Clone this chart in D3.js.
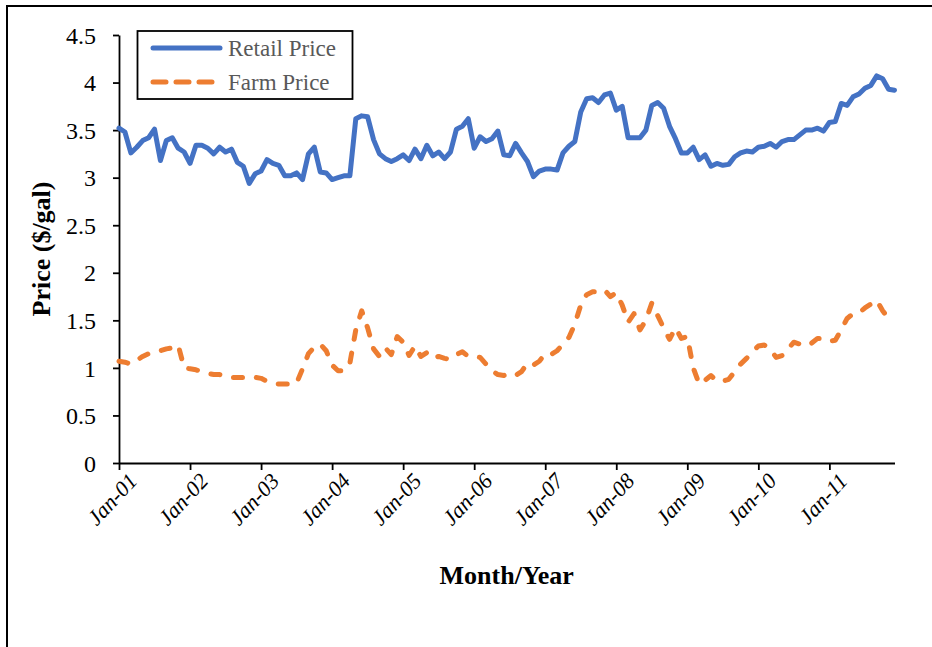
<!DOCTYPE html>
<html>
<head>
<meta charset="utf-8">
<script src="https://cdn.jsdelivr.net/npm/d3@7"></script>
<style>
  body { margin: 0; background: #fff; }
  svg { display: block; }
</style>
</head>
<body>
<svg id="chart" width="932" height="647"></svg>
<script>
// ---- Data (monthly, Jan 2001 .. Dec 2011) ----
const years = ["01","02","03","04","05","06","07","08","09","10","11"];
const xTickLabels = years.map(y => "Jan-" + y);
const yTicks = [0, 0.5, 1, 1.5, 2, 2.5, 3, 3.5, 4, 4.5];
const seriesNames = ["Retail Price", "Farm Price"];

const retail = [
  3.52, 3.48, 3.26, 3.32, 3.39, 3.42, 3.51, 3.18, 3.39, 3.42, 3.31, 3.27,
  3.15, 3.34, 3.34, 3.31, 3.25, 3.32, 3.27, 3.30, 3.16, 3.12, 2.94, 3.04,
  3.07, 3.19, 3.15, 3.13, 3.02, 3.02, 3.05, 2.98, 3.25, 3.32, 3.06, 3.05,
  2.98, 3.00, 3.02, 3.02, 3.62, 3.65, 3.64, 3.40, 3.25, 3.20, 3.17, 3.20,
  3.24, 3.18, 3.30, 3.20, 3.34, 3.23, 3.27, 3.20, 3.27, 3.51, 3.54, 3.62,
  3.31, 3.43, 3.38, 3.41, 3.49, 3.24, 3.23, 3.36, 3.26, 3.17, 3.01, 3.07,
  3.09, 3.09, 3.08, 3.26, 3.33, 3.38, 3.69, 3.83, 3.84, 3.79, 3.87, 3.89,
  3.71, 3.75, 3.42, 3.42, 3.42, 3.50, 3.76, 3.79, 3.73, 3.54, 3.41, 3.26,
  3.26, 3.32, 3.19, 3.24, 3.12, 3.15, 3.13, 3.14, 3.22, 3.26, 3.28, 3.27,
  3.32, 3.33, 3.36, 3.32, 3.38, 3.40, 3.40, 3.45, 3.50, 3.50, 3.52, 3.49,
  3.58, 3.59, 3.78, 3.76, 3.85, 3.88, 3.94, 3.97, 4.07, 4.04, 3.93, 3.92
];

const farm = [
  1.07, 1.06, 1.04, 1.08, 1.12, 1.15, 1.17, 1.18, 1.20, 1.21, 1.24, 1.00,
  0.99, 0.98, 0.96, 0.94, 0.93, 0.93, 0.91, 0.90, 0.90, 0.90, 0.91, 0.90,
  0.89, 0.86, 0.84, 0.83, 0.83, 0.83, 0.84, 0.99, 1.15, 1.22, 1.25, 1.18,
  1.03, 0.97, 0.97, 1.05, 1.40, 1.60, 1.42, 1.20, 1.12, 1.21, 1.14, 1.33,
  1.27, 1.13, 1.23, 1.12, 1.16, 1.10, 1.12, 1.10, 1.09, 1.14, 1.17, 1.12,
  1.12, 1.11, 1.04, 0.97, 0.93, 0.92, 0.94, 0.92, 0.96, 1.05, 1.03, 1.07,
  1.15, 1.14, 1.18, 1.25, 1.32, 1.46, 1.66, 1.77, 1.80, 1.80, 1.82, 1.75,
  1.79, 1.66, 1.48, 1.57, 1.40, 1.50, 1.68, 1.55, 1.42, 1.30, 1.42, 1.31,
  1.33, 1.00, 0.83, 0.87, 0.92, 0.86, 0.86, 0.88, 0.96, 1.04, 1.10, 1.17,
  1.23, 1.24, 1.20, 1.11, 1.13, 1.20, 1.27, 1.25, 1.23, 1.26, 1.31, 1.31,
  1.28, 1.29, 1.40, 1.52, 1.57, 1.58, 1.63, 1.67, 1.71, 1.60, 1.52, 1.50
];

// ---- Layout ----
const W = 932, H = 647;
const plot = { left: 119, right: 894.5, top: 35, bottom: 463 };
const serif = "'Liberation Serif', 'Times New Roman', Times, serif";
const colRetail = "#4472C4", colFarm = "#ED7D31";

const svg = d3.select("#chart");

// outer frame (cropped on right/bottom)
svg.append("path")
  .attr("d", `M7,${H + 5} L7,6 L${W + 5},6`)
  .attr("fill", "none").attr("stroke", "#000").attr("stroke-width", 2);

const x = d3.scaleLinear().domain([0, retail.length - 1]).range([plot.left, plot.right]);
const y = d3.scaleLinear().domain([0, 4.5]).range([plot.bottom, plot.top]);

// Y axis
const yAxis = svg.append("g")
  .attr("transform", `translate(${plot.left},0)`)
  .call(d3.axisLeft(y).tickValues(yTicks).tickFormat(d3.format("")).tickSize(6).tickPadding(17).tickSizeOuter(0));
yAxis.select(".domain").attr("stroke", "#000").attr("stroke-width", 1.8);
yAxis.selectAll(".tick line").attr("stroke", "#000").attr("stroke-width", 1.8);
yAxis.selectAll(".tick text")
  .attr("font-family", serif).attr("font-size", 24).attr("fill", "#000").attr("dy", "0.34em");

// X axis
const xTickVals = xTickLabels.map((_, i) => i * 12);
const xAxis = svg.append("g")
  .attr("transform", `translate(0,${plot.bottom})`)
  .call(d3.axisBottom(x).tickValues(xTickVals).tickFormat((d, i) => xTickLabels[i]).tickSize(7).tickSizeOuter(0));
xAxis.select(".domain").attr("stroke", "#000").attr("stroke-width", 2.2);
xAxis.selectAll(".tick line").attr("stroke", "#000").attr("stroke-width", 1.8);
xAxis.selectAll(".tick text")
  .attr("font-family", serif).attr("font-size", 22).attr("font-style", "italic").attr("fill", "#000")
  .attr("x", 0).attr("y", 0).attr("dy", 0)
  .attr("text-anchor", "end")
  .attr("transform", "translate(19,19) rotate(-47)");

// Axis titles
svg.append("text")
  .attr("x", (plot.left + plot.right) / 2).attr("y", 584)
  .attr("text-anchor", "middle")
  .attr("font-family", serif).attr("font-weight", "bold").attr("font-size", 26)
  .text("Month/Year");

svg.append("text")
  .attr("transform", "translate(50,249) rotate(-90)")
  .attr("text-anchor", "middle")
  .attr("font-family", serif).attr("font-weight", "bold").attr("font-size", 26)
  .text("Price ($/gal)");

// Lines
const line = d3.line().x((d, i) => x(i)).y(d => y(d));

svg.append("path")
  .datum(farm)
  .attr("d", line)
  .attr("fill", "none").attr("stroke", colFarm).attr("stroke-width", 5)
  .attr("stroke-linecap", "round").attr("stroke-linejoin", "round")
  .attr("stroke-dasharray", "9,14");

svg.append("path")
  .datum(retail)
  .attr("d", line)
  .attr("fill", "none").attr("stroke", colRetail).attr("stroke-width", 5)
  .attr("stroke-linecap", "round").attr("stroke-linejoin", "round");

// Legend
const lg = svg.append("g");
lg.append("rect")
  .attr("x", 137.5).attr("y", 31).attr("width", 215).attr("height", 68)
  .attr("fill", "#fff").attr("stroke", "#000").attr("stroke-width", 1.8);

const legendItems = [
  { name: seriesNames[0], color: colRetail, dash: null, y: 48 },
  { name: seriesNames[1], color: colFarm, dash: "13,10", y: 82 }
];
legendItems.forEach(it => {
  lg.append("line")
    .attr("x1", 153).attr("x2", 220).attr("y1", it.y).attr("y2", it.y)
    .attr("stroke", it.color).attr("stroke-width", 5).attr("stroke-linecap", "round")
    .attr("stroke-dasharray", it.dash);
  lg.append("text")
    .attr("x", 228).attr("y", it.y + 8)
    .attr("font-family", serif).attr("font-size", 23).attr("fill", "#595959")
    .text(it.name);
});
</script>
</body>
</html>
